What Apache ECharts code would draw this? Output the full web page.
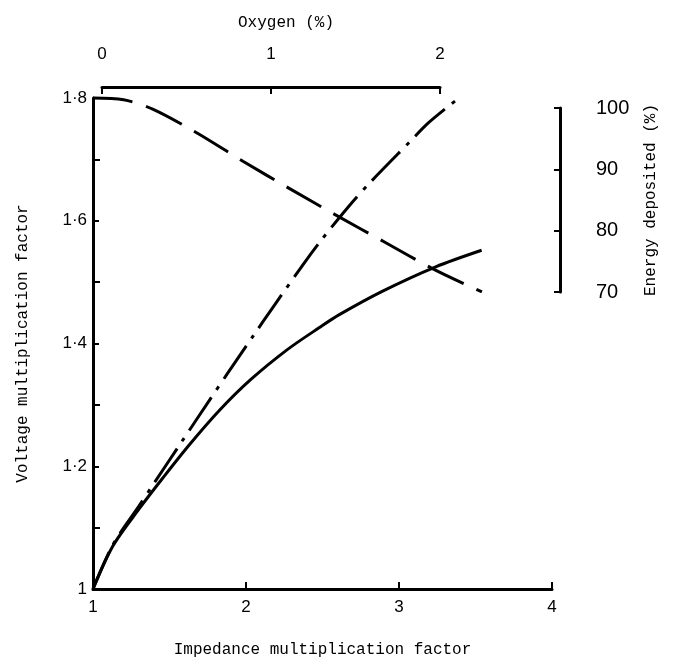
<!DOCTYPE html>
<html>
<head>
<meta charset="utf-8">
<script src="https://cdn.jsdelivr.net/npm/echarts@6/dist/echarts.min.js"></script>
<style>
html,body{margin:0;padding:0;background:#fff;}
#chart{width:682px;height:665px;}
</style>
</head>
<body>
<div id="chart"></div>
<script>
// Impedance multiplication factor (x) vs voltage multiplication factor (y)
const solidX = [1, 1.13, 1.3, 1.46, 1.63, 1.83, 2.03, 2.27, 2.48, 2.61, 2.89, 3.24, 3.54];
const solidY = [1, 1.07, 1.13, 1.182, 1.235, 1.292, 1.341, 1.39, 1.426, 1.447, 1.485, 1.525, 1.552];

const dashDotX = [1, 1.13, 1.3, 1.39, 1.58, 1.765, 1.876, 2.046, 2.176, 2.386, 2.497, 2.667, 2.81, 3.072, 3.19, 3.366];
const dashDotY = [1, 1.072, 1.135, 1.169, 1.24, 1.309, 1.35, 1.412, 1.459, 1.533, 1.57, 1.622, 1.662, 1.729, 1.759, 1.795];

const dashedX = [1, 1.2, 1.39, 1.68, 1.98, 2.288, 2.582, 2.908, 3.235, 3.542];
const dashedY = [1.8, 1.797, 1.782, 1.743, 1.697, 1.652, 1.61, 1.565, 1.52, 1.484];

const impedanceTicks = [1, 2, 3, 4];
const voltageTicks = [1, 1.2, 1.4, 1.6, 1.8];
const oxygenTicks = [0, 1, 2];
const energyTicks = [70, 80, 90, 100];

function pairs(xs, ys) { return xs.map((x, i) => [x, ys[i]]); }

const labelFont = { fontFamily: 'Liberation Sans', fontSize: 17, color: '#000' };
const nameFont = { fontFamily: 'Liberation Mono', fontSize: 16, color: '#000' };
const axisLine = { show: true, lineStyle: { color: '#000', width: 3 } };

const chart = echarts.init(document.getElementById('chart'));
chart.setOption({
  backgroundColor: '#fff',
  animation: false,
  grid: [
    { left: 93, top: 98, width: 459, height: 491 },
    { left: 102, top: 67, width: 338, height: 20 },
    { left: 560, top: 108, width: 31, height: 184 }
  ],
  xAxis: [
    {
      gridIndex: 0, type: 'value',
      min: impedanceTicks[0], max: impedanceTicks[impedanceTicks.length - 1], interval: 1,
      axisLine: axisLine,
      axisTick: { show: true, inside: true, length: 7, lineStyle: { color: '#000', width: 2 } },
      axisLabel: Object.assign({ margin: 10 }, labelFont),
      splitLine: { show: false },
      name: 'Impedance multiplication factor', nameLocation: 'middle', nameGap: 53,
      nameTextStyle: nameFont
    },
    {
      gridIndex: 1, type: 'value', position: 'top',
      min: oxygenTicks[0], max: oxygenTicks[oxygenTicks.length - 1], interval: 1,
      axisLine: axisLine,
      axisTick: { show: true, inside: true, length: 7, lineStyle: { color: '#000', width: 2 } },
      axisLabel: Object.assign({ margin: 4 }, labelFont),
      splitLine: { show: false },
      name: 'Oxygen (%)', nameLocation: 'middle', nameGap: 36,
      nameTextStyle: Object.assign({ padding: [0, 0, 0, 30] }, nameFont)
    },
    { gridIndex: 2, type: 'value', show: false, min: 0, max: 1 }
  ],
  yAxis: [
    {
      gridIndex: 0, type: 'value',
      min: voltageTicks[0], max: voltageTicks[voltageTicks.length - 1], interval: 0.2,
      axisLine: axisLine,
      axisTick: { show: true, inside: true, length: 6, lineStyle: { color: '#000', width: 2 } },
      minorTick: { show: true, splitNumber: 2, length: 7, lineStyle: { color: '#000', width: 2 } },
      axisLabel: Object.assign({
        margin: 6,
        formatter: v => String(+(+v).toFixed(1)).replace('.', '\u00B7')
      }, labelFont),
      splitLine: { show: false },
      minorSplitLine: { show: false },
      name: 'Voltage multiplication factor', nameLocation: 'middle', nameGap: 62, nameRotate: 90,
      nameTextStyle: nameFont
    },
    { gridIndex: 1, type: 'value', show: false, min: 0, max: 1 },
    {
      gridIndex: 2, type: 'value', position: 'right',
      min: energyTicks[0], max: energyTicks[energyTicks.length - 1], interval: 10,
      axisLine: axisLine,
      axisTick: { show: true, inside: true, length: 6, lineStyle: { color: '#000', width: 2 } },
      axisLabel: Object.assign({ margin: 5 }, labelFont, { fontSize: 20 }),
      splitLine: { show: false },
      name: 'Energy deposited (%)', nameLocation: 'middle', nameGap: 52, nameRotate: 90,
      nameTextStyle: nameFont
    }
  ],
  series: [
    {
      type: 'line', xAxisIndex: 0, yAxisIndex: 0, data: pairs(solidX, solidY),
      showSymbol: false, smooth: 0.3, clip: false,
      lineStyle: { color: '#000', width: 3, type: 'solid' }
    },
    {
      type: 'line', xAxisIndex: 0, yAxisIndex: 0, data: pairs(dashDotX, dashDotY),
      showSymbol: false, smooth: 0.3, clip: false,
      lineStyle: { color: '#000', width: 3, type: [40, 9, 4, 9] }
    },
    {
      type: 'line', xAxisIndex: 0, yAxisIndex: 0, data: pairs(dashedX, dashedY),
      showSymbol: false, smooth: 0.3, clip: false,
      lineStyle: { color: '#000', width: 3, type: [40, 14] }
    }
  ]
});
</script>
</body>
</html>
